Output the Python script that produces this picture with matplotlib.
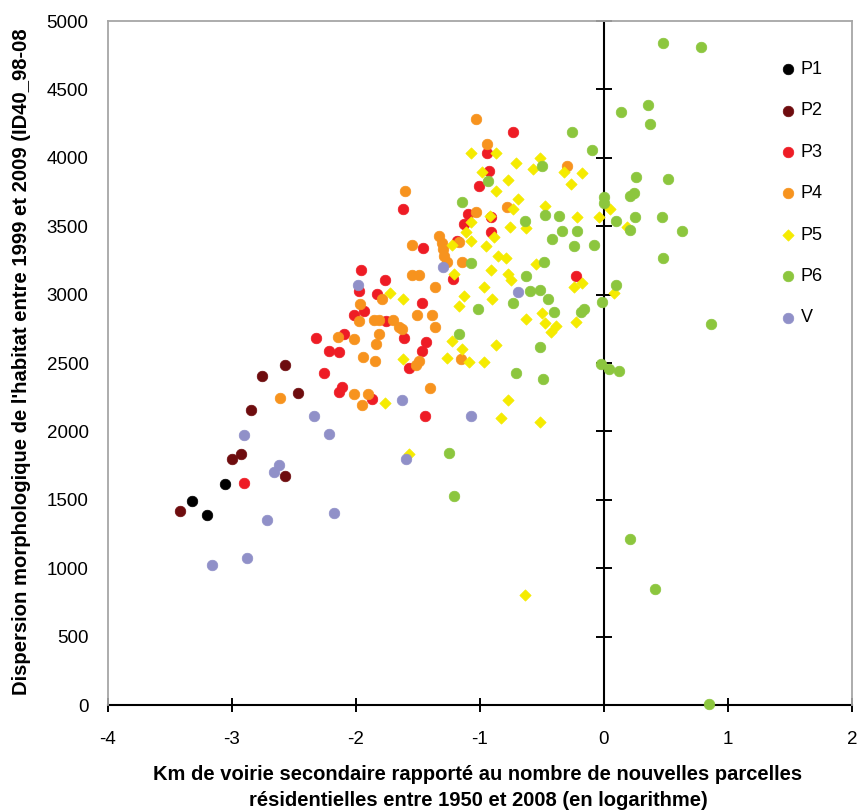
import matplotlib
matplotlib.use("Agg")
import matplotlib.pyplot as plt

plt.rcParams['font.family'] = ['Liberation Sans', 'DejaVu Sans']

# ---- data ----
p1_x = [-3.32, -3.20, -3.06]
p1_y = [1491, 1392, 1613]

p2_x = [-3.42, -3.00, -2.93, -2.85, -2.76, -2.57, -2.47, -2.57]
p2_y = [1416, 1796, 1837, 2155, 2404, 2489, 2280, 1674]

p3_x = [-2.90, -2.325, -2.22, -2.258, -2.11, -2.137, -1.868, -1.444, -2.097, -2.137,
        -1.957, -1.766, -1.976, -1.828, -1.935, -2.016, -1.76, -1.465, -1.438, -1.465,
        -1.613, -1.573, -1.457, -1.218, -1.618, -1.008, -1.094, -1.129, -1.183, -0.734,
        -0.941, -0.927, -0.914, -0.914, -0.228]
p3_y = [1626, 2683, 2591, 2426, 2324, 2287, 2238, 2109, 2713, 2579,
        3180, 3107, 3024, 3003, 2883, 2854, 2810, 2937, 2650, 2591,
        2685, 2464, 3341, 3114, 3625, 3796, 3589, 3516, 3394, 4192,
        4032, 3900, 3570, 3460, 3134]

p4_x = [-2.61, -1.03, -0.941, -1.605, -1.035, -0.78, -0.296, -1.551, -1.33, -1.31,
        -1.30, -1.29, -1.27, -1.143, -1.545, -1.49, -1.363, -1.788, -1.968, -1.976,
        -1.855, -1.815, -1.70, -1.653, -1.627, -1.506, -1.385, -1.363, -1.815, -1.841,
        -2.143, -2.016, -1.94, -1.847, -1.52, -1.49, -1.156, -2.016, -1.90, -1.949,
        -1.403, -1.17]
p4_y = [2243, 4280, 4104, 3759, 3604, 3637, 3937, 3362, 3430, 3380,
        3330, 3280, 3240, 3236, 3146, 3146, 3058, 2967, 2931, 2810,
        2815, 2815, 2815, 2761, 2750, 2854, 2854, 2761, 2713, 2642,
        2693, 2676, 2542, 2518, 2482, 2518, 2530, 2270, 2274, 2190,
        2318, 3385]

p5_x = [-1.075, -0.868, -0.707, -0.519, -0.573, -0.323, -0.175, -0.269, -0.981, -0.772,
        -0.868, -0.694, -0.734, -0.476, -0.627, -0.215, -0.04, 0.046, -0.922, -1.115,
        -0.76, -0.887, -0.954, -1.223, -1.075, -0.852, -0.788, -0.551, -0.914, -1.21,
        -0.772, -0.752, -0.242, -0.175, -0.968, -1.13, -0.90, -1.075, -1.728, -1.618,
        -1.169, -1.618, -1.223, -1.143, -1.264, -1.089, -0.968, -0.868, -1.766, -0.627,
        -0.476, -0.39, -0.43, -0.228, -0.502, -0.772, -0.833, -0.516, -1.573, -0.64,
        0.08, 0.188]
p5_y = [4032, 4032, 3959, 3998, 3917, 3898, 3886, 3808, 3898, 3837,
        3759, 3698, 3625, 3650, 3487, 3565, 3565, 3625, 3577, 3460,
        3491, 3418, 3353, 3365, 3394, 3285, 3268, 3222, 3180, 3151,
        3151, 3109, 3053, 3083, 3058, 2993, 2967, 3528, 3011, 2967,
        2920, 2530, 2664, 2604, 2537, 2506, 2506, 2628, 2207, 2822,
        2790, 2774, 2725, 2800, 2864, 2231, 2100, 2068, 1832, 803,
        3011, 3496]

p6_x = [0.478, 0.78, 0.357, 0.14, 0.368, -0.255, -0.094, -0.497, 0.26, 0.518,
        -0.933, 0.0, 0.0, 0.207, 0.242, -1.143, -0.476, -0.363, -0.637, 0.094,
        0.25, 0.465, 0.207, 0.632, -0.341, -0.215, -0.417, -0.242, -0.081, 0.478,
        -0.484, -1.075, -0.627, 0.094, -0.60, -0.52, -0.45, -1.014, -0.734, -0.403,
        -0.161, -0.188, -0.013, 0.863, -1.169, -0.519, -0.707, -0.489, -0.027, 0.04,
        0.12, -1.25, -1.21, 0.207, 0.411, 0.847]
p6_y = [4842, 4810, 4387, 4338, 4250, 4190, 4055, 3942, 3861, 3844,
        3832, 3715, 3667, 3723, 3740, 3674, 3584, 3572, 3540, 3540,
        3565, 3565, 3472, 3462, 3462, 3462, 3406, 3353, 3365, 3268,
        3241, 3228, 3134, 3070, 3025, 3030, 2970, 2895, 2937, 2873,
        2895, 2873, 2944, 2786, 2713, 2616, 2426, 2384, 2494, 2457,
        2440, 1842, 1528, 1210, 849, 5]

v_x = [-3.16, -2.88, -2.72, -2.90, -2.62, -2.66, -2.34, -2.22, -2.18, -1.98,
       -1.30, -1.63, -1.075, -1.60, -0.69]
v_y = [1022, 1071, 1355, 1971, 1752, 1703, 2109, 1983, 1406, 3073,
       3204, 2231, 2109, 1800, 3022]

series_names = ['P1', 'P2', 'P3', 'P4', 'P5', 'P6', 'V']
series_x = [p1_x, p2_x, p3_x, p4_x, p5_x, p6_x, v_x]
series_y = [p1_y, p2_y, p3_y, p4_y, p5_y, p6_y, v_y]
series_colors = ['#000000', '#6E0C0E', '#EE1C25', '#F7931E', '#F5EB00', '#8CC63E', '#9090C8']
series_markers = ['o', 'o', 'o', 'o', 'D', 'o', 'o']
series_sizes = [58, 58, 58, 58, 33, 58, 58]

x_ticks = [-4, -3, -2, -1, 0, 1, 2]
y_ticks = [0, 500, 1000, 1500, 2000, 2500, 3000, 3500, 4000, 4500, 5000]

W, H = 858, 811
fig = plt.figure(figsize=(W / 100, H / 100), dpi=100)
ax = fig.add_axes([108 / W, 1 - 705 / H, (852 - 108) / W, (705 - 21) / H])

# vertical axis line crossing at x = 0
ax.axvline(0, color='#000000', linewidth=1.5, zorder=2)

for name, xs, ys, c, m, s in zip(series_names, series_x, series_y, series_colors,
                                 series_markers, series_sizes):
    ax.scatter(xs, ys, s=s, c=c, marker=m, edgecolors=c, linewidths=0.5,
               label=name, zorder=3, clip_on=False)

ax.set_xlim(-4, 2)
ax.set_ylim(0, 5000)
ax.set_xticks(x_ticks)
ax.set_xticklabels([str(t) for t in x_ticks])
ax.set_yticks(y_ticks)
ax.set_yticklabels([str(t) for t in y_ticks])

gray = '#A6A6A6'
for sp in ['left', 'top', 'right']:
    ax.spines[sp].set_color(gray)
    ax.spines[sp].set_linewidth(1.3)
ax.spines['bottom'].set_color('#000000')
ax.spines['bottom'].set_linewidth(1.5)
ax.spines['bottom'].set_zorder(2)

ax.tick_params(axis='y', length=0, pad=14, labelsize=13.5)
ax.tick_params(axis='x', direction='inout', length=10, width=1.4, pad=14, labelsize=13.5)

# tick marks on the vertical axis at x = 0
sec = ax.secondary_yaxis((0 - (-4)) / 6.0)
sec.set_yticks(y_ticks)
sec.tick_params(axis='y', direction='inout', length=12, width=1.4, labelleft=False,
                labelright=False)
sec.spines['left'].set_visible(False)
sec.spines['right'].set_visible(False)

leg = ax.legend(loc='upper left', bbox_to_anchor=(768 / W, 1 - 52 / H),
                bbox_transform=fig.transFigure, frameon=False, fontsize=13,
                labelspacing=1.35, handletextpad=0.1, handlelength=1.2,
                borderpad=0, scatterpoints=1)

fig.text(478 / W, 1 - 775 / H,
         "Km de voirie secondaire rapporté au nombre de nouvelles parcelles",
         ha='center', va='center', fontsize=14.5, fontweight='bold')
fig.text(478 / W, 1 - 801 / H,
         "résidentielles entre 1950 et 2008 (en logarithme)",
         ha='center', va='center', fontsize=14.5, fontweight='bold')
fig.text(22 / W, 1 - 695 / H,
         "Dispersion morphologique de l'habitat entre 1999 et 2009 (ID40_98-08",
         rotation=90, ha='center', va='bottom', fontsize=14.6, fontweight='bold')

fig.savefig('out.png', dpi=100)
